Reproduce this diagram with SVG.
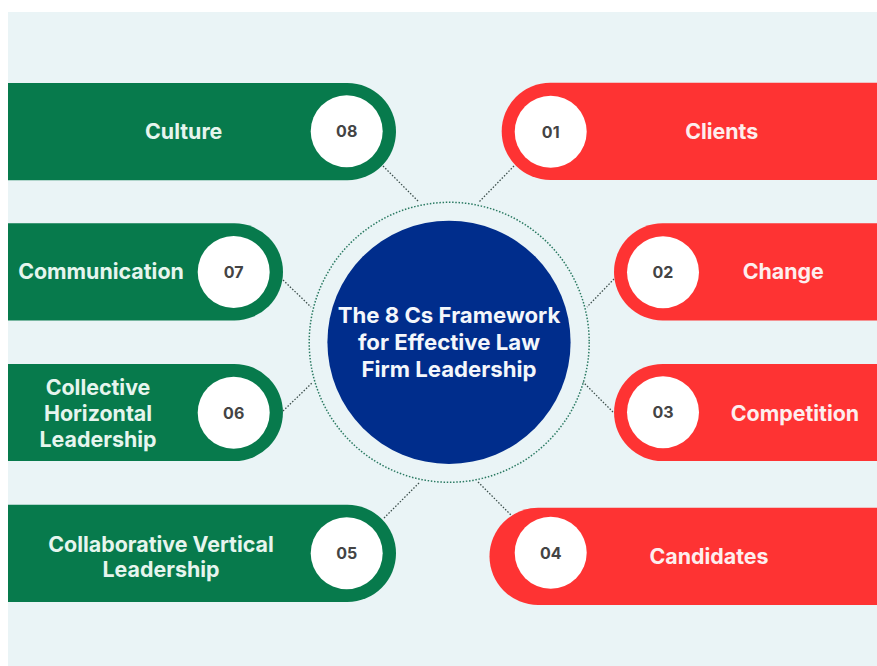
<svg xmlns="http://www.w3.org/2000/svg" width="877" height="666" viewBox="0 0 877 666">
<style>
text{font-family:"Inter","Liberation Sans",sans-serif;font-weight:700;text-anchor:middle}
.l{font-size:21.4px}
.lg{fill:#e6f5ee}.lr{fill:#fdeeee}
.n{fill:#444;font-size:16px}
.t{font-size:22.2px;fill:#f4f7fb}
.g{fill:#077a4c}.r{fill:#fe3333}.w{fill:#fff}
.c{stroke:#3d4f4c;stroke-width:1.3;stroke-dasharray:1.5 1.7;fill:none}
</style>
<rect width="877" height="666" fill="#fff"/>
<rect x="8" y="12" width="869" height="654" fill="#eaf4f6"/>
<g id="connectors">
<path class="c" d="M383 166L419 202M514 166L479 202M614 279L587 307M613 412L583 382M283 280L311 307M283 411L312 383M384 518L419 483M513 517L478 482"/>
</g>
<g id="center">
<circle cx="449.200" cy="342.300" r="140" fill="none" stroke="#2a7a62" stroke-width="1.500" stroke-dasharray="1.500 1.700"/>
<circle cx="449" cy="342.300" r="121.600" fill="#002d8c"/>
<text class="t" x="449" y="323.300">The 8 Cs Framework</text>
<text class="t" x="449" y="350.300">for Effective Law</text>
<text class="t" x="449" y="377">Firm Leadership</text>
</g>
<g id="n8"><path class="g" d="M8 83H347.400a48.600 48.600 0 0 1 0 97.200H8Z"/><circle class="w" cx="346.700" cy="131.300" r="36"/><text class="n" x="346.700" y="137.300">08</text><text class="l lg" x="183.700" y="139">Culture</text></g>
<g id="n7"><path class="g" d="M8 223.300H234.400a48.600 48.600 0 0 1 0 97.200H8Z"/><circle class="w" cx="233.700" cy="272" r="36"/><text class="n" x="233.700" y="277.700">07</text><text class="l lg" x="101" y="278.700">Communication</text></g>
<g id="n6"><path class="g" d="M8 363.900H234.400a48.600 48.600 0 0 1 0 97.200H8Z"/><circle class="w" cx="233.700" cy="412.700" r="36"/><text class="n" x="233.700" y="418.700">06</text><text class="l lg" x="98" y="395">Collective</text><text class="l lg" x="98" y="420.700">Horizontal</text><text class="l lg" x="98" y="446.700">Leadership</text></g>
<g id="n5"><path class="g" d="M8 504.700H347.400a48.600 48.600 0 0 1 0 97.200H8Z"/><circle class="w" cx="346.700" cy="553.300" r="36"/><text class="n" x="346.700" y="559.300">05</text><text class="l lg" x="161" y="551.700">Collaborative Vertical</text><text class="l lg" x="161" y="577">Leadership</text></g>
<g id="n1"><path class="r" d="M877 82.800H550.300a48.600 48.600 0 0 0 0 97.200H877Z"/><circle class="w" cx="550.700" cy="131.700" r="36"/><text class="n" x="550.700" y="138">01</text><text class="l lr" x="721.700" y="139.300">Clients</text></g>
<g id="n2"><path class="r" d="M877 223.300H662.600a48.600 48.600 0 0 0 0 97.200H877Z"/><circle class="w" cx="663" cy="272.300" r="36"/><text class="n" x="663" y="278">02</text><text class="l lr" x="783.300" y="279.300">Change</text></g>
<g id="n3"><path class="r" d="M877 363.900H662.600a48.600 48.600 0 0 0 0 97.200H877Z"/><circle class="w" cx="663" cy="412.300" r="36"/><text class="n" x="663" y="418.300">03</text><text class="l lr" x="795" y="420.700">Competition</text></g>
<g id="n4"><path class="r" d="M877 507.700H538.100a48.600 48.600 0 0 0 0 97.200H877Z"/><circle class="w" cx="550.700" cy="552.700" r="36"/><text class="n" x="550.700" y="558.700">04</text><text class="l lr" x="709" y="564">Candidates</text></g>
</svg>
